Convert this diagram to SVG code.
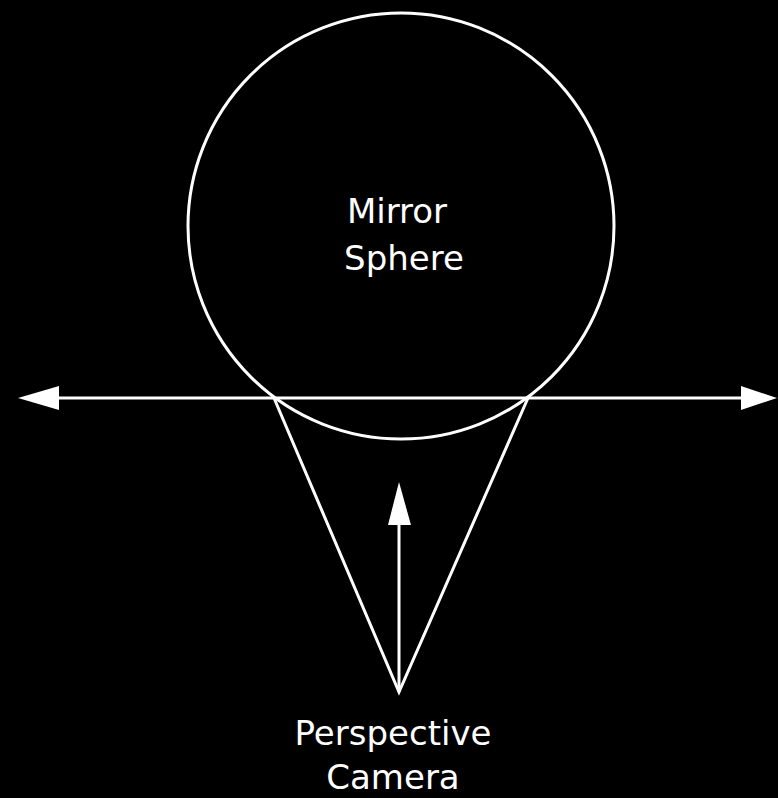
<svg xmlns="http://www.w3.org/2000/svg" width="778" height="798" viewBox="0 0 778 798">
<style>
.ln{stroke:#fff;stroke-width:3;fill:none}
.ah{fill:#fff}
.t{font-family:"DejaVu Sans","Liberation Sans",sans-serif;font-size:34px;fill:#fff;text-anchor:middle}
</style>
<rect width="778" height="798" fill="#000"/>
<g id="sphere">
<circle class="ln" cx="401" cy="226" r="213"/>
<text class="t" x="397" y="223">Mirror</text>
<text class="t" x="404" y="270">Sphere</text>
</g>
<g id="camera">
<text class="t" x="393" y="745">Perspective</text>
<text class="t" x="393" y="789">Camera</text>
</g>
<g id="connectors">
<line class="ln" x1="58" y1="398" x2="742" y2="398"/>
<polygon class="ah" points="18,398 59,386 59,410"/>
<polygon class="ah" points="777,398 741,386 741,410"/>
<polyline class="ln" points="274,398 399,692 528,398"/>
<line class="ln" x1="399" y1="692" x2="399" y2="522"/>
<polygon class="ah" points="399,482 388,525 411,525"/>
</g>
</svg>
